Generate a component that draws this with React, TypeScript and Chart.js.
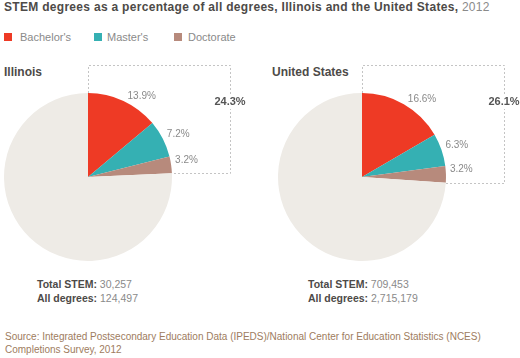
import React, { useEffect, useRef } from "react";
import { Chart, registerables } from "chart.js";

Chart.register(...registerables);

const categories = ["Bachelor's", "Master's", "Doctorate", "Other degrees"];
const illinoisValues = [13.9, 7.2, 3.2, 75.7];
const usValues = [16.6, 6.3, 3.2, 73.9];
const sliceColors = ["#EE3A25", "#35B0B3", "#B78A7C", "#EEEBE6"];
const legendColors = ["#EE3A25", "#35B0B3", "#B78A7C"];
const illinoisTotals = { stem: "30,257", all: "124,497" };
const usTotals = { stem: "709,453", all: "2,715,179" };

const FONT = "'Liberation Sans', Arial, Helvetica, sans-serif";

const stemLabelsPlugin = {
  id: "stemLabels",
  afterDraw(chart: any) {
    const meta = chart.getDatasetMeta(0);
    const arcs = meta.data;
    const values: number[] = chart.data.datasets[0].data;
    const ctx = chart.ctx;
    if (!arcs.length) return;
    const a0 = arcs[0];
    const cx = a0.x;
    const cy = a0.y;
    const r = a0.outerRadius;
    ctx.save();
    // dashed box
    const last = arcs[2];
    const ex = cx + r * Math.cos(last.endAngle);
    const ey = cy + r * Math.sin(last.endAngle);
    const top = cy - r - 28;
    const right = cx + r + 58;
    ctx.strokeStyle = "#c4c4c4";
    ctx.lineWidth = 1;
    ctx.setLineDash([2, 2]);
    ctx.beginPath();
    ctx.moveTo(Math.round(cx) + 0.5, cy - r);
    ctx.lineTo(Math.round(cx) + 0.5, Math.round(top) + 0.5);
    ctx.lineTo(Math.round(right) + 0.5, Math.round(top) + 0.5);
    ctx.lineTo(Math.round(right) + 0.5, Math.round(ey) + 0.5);
    ctx.lineTo(ex, Math.round(ey) + 0.5);
    ctx.stroke();
    ctx.setLineDash([]);
    // slice labels
    ctx.font = `10px ${FONT}`;
    ctx.fillStyle = "#8a8a8a";
    ctx.textAlign = "left";
    ctx.textBaseline = "middle";
    for (let i = 0; i < 3; i++) {
      const a = arcs[i];
      const mid = (a.startAngle + a.endAngle) / 2;
      const px = cx + r * Math.cos(mid) + 4;
      const py = cy + r * Math.sin(mid) - 5;
      ctx.fillText(values[i].toFixed(1) + "%", px, py);
    }
    // total label
    const total = values.slice(0, 3).reduce((s, v) => s + v, 0);
    const text = total.toFixed(1) + "%";
    ctx.font = `bold 11px ${FONT}`;
    const w = ctx.measureText(text).width;
    const ty = top + 37;
    ctx.fillStyle = "#ffffff";
    ctx.fillRect(right - w / 2 - 1, ty - 7, w + 2, 14);
    ctx.fillStyle = "#555555";
    ctx.textAlign = "center";
    ctx.fillText(text, right, ty);
    ctx.restore();
  },
};

function PieCanvas({ values, padLeft, padRight }: { values: number[]; padLeft: number; padRight: number }) {
  const ref = useRef<HTMLCanvasElement | null>(null);
  useEffect(() => {
    if (!ref.current) return;
    const chart = new Chart(ref.current, {
      type: "pie",
      data: {
        labels: categories,
        datasets: [
          {
            data: values,
            backgroundColor: sliceColors,
            borderWidth: 0,
            hoverOffset: 0,
            offset: 0,
          },
        ],
      },
      options: {
        animation: false,
        responsive: false,
        maintainAspectRatio: false,
        events: [],
        layout: { padding: { left: padLeft, right: padRight, top: 33, bottom: 9 } },
        plugins: {
          legend: { display: false },
          tooltip: { enabled: false },
        },
      },
      plugins: [stemLabelsPlugin],
    });
    return () => chart.destroy();
  }, [values, padLeft, padRight]);
  return <canvas ref={ref} width={260} height={210} style={{ width: 260, height: 210, display: "block" }} />;
}

export default function App() {
  const text = (style: React.CSSProperties, children: React.ReactNode) => (
    <div style={{ position: "absolute", whiteSpace: "nowrap", fontFamily: FONT, ...style }}>{children}</div>
  );
  return (
    <div style={{ position: "absolute", left: 0, top: 0, width: 520, height: 358, background: "#fff", overflow: "hidden" }}>
      {text(
        { left: 4, top: 0, fontSize: 12, lineHeight: "14px", color: "#4d4a48", letterSpacing: "0.3px" },
        <>
          <b>STEM degrees as a percentage of all degrees, Illinois and the United States,</b>
          <span style={{ color: "#8a8a8a" }}> 2012</span>
        </>
      )}
      {categories.slice(0, 3).map((c, i) => (
        <React.Fragment key={c}>
          <div style={{ position: "absolute", left: [4, 94, 174][i], top: 33, width: 8, height: 8, background: legendColors[i] }} />
          {text({ left: [20, 107, 188][i], top: 30.5, fontSize: 11, lineHeight: "13px", color: "#8a8a8a" }, c)}
        </React.Fragment>
      ))}
      {text({ left: 4, top: 65, fontSize: 12, lineHeight: "14px", fontWeight: "bold", color: "#4d4a48" }, "Illinois")}
      {text({ left: 272, top: 65, fontSize: 12, lineHeight: "14px", fontWeight: "bold", color: "#4d4a48" }, "United States")}
      <div style={{ position: "absolute", left: 0, top: 60 }}>
        <PieCanvas values={illinoisValues} padLeft={4} padRight={88} />
      </div>
      <div style={{ position: "absolute", left: 260, top: 60 }}>
        <PieCanvas values={usValues} padLeft={18} padRight={74} />
      </div>
      {text(
        { left: 37, top: 277, fontSize: 10.5, lineHeight: "14px", color: "#8a8a8a" },
        <>
          <div><b style={{ color: "#4d4a48" }}>Total STEM:</b> {illinoisTotals.stem}</div>
          <div><b style={{ color: "#4d4a48" }}>All degrees:</b> {illinoisTotals.all}</div>
        </>
      )}
      {text(
        { left: 308, top: 277, fontSize: 10.5, lineHeight: "14px", color: "#8a8a8a" },
        <>
          <div><b style={{ color: "#4d4a48" }}>Total STEM:</b> {usTotals.stem}</div>
          <div><b style={{ color: "#4d4a48" }}>All degrees:</b> {usTotals.all}</div>
        </>
      )}
      {text(
        { left: 5, top: 329.5, fontSize: 10, lineHeight: "13px", color: "#9e7c5e" },
        <>
          <div>Source: Integrated Postsecondary Education Data (IPEDS)/National Center for Education Statistics (NCES)</div>
          <div>Completions Survey, 2012</div>
        </>
      )}
    </div>
  );
}
